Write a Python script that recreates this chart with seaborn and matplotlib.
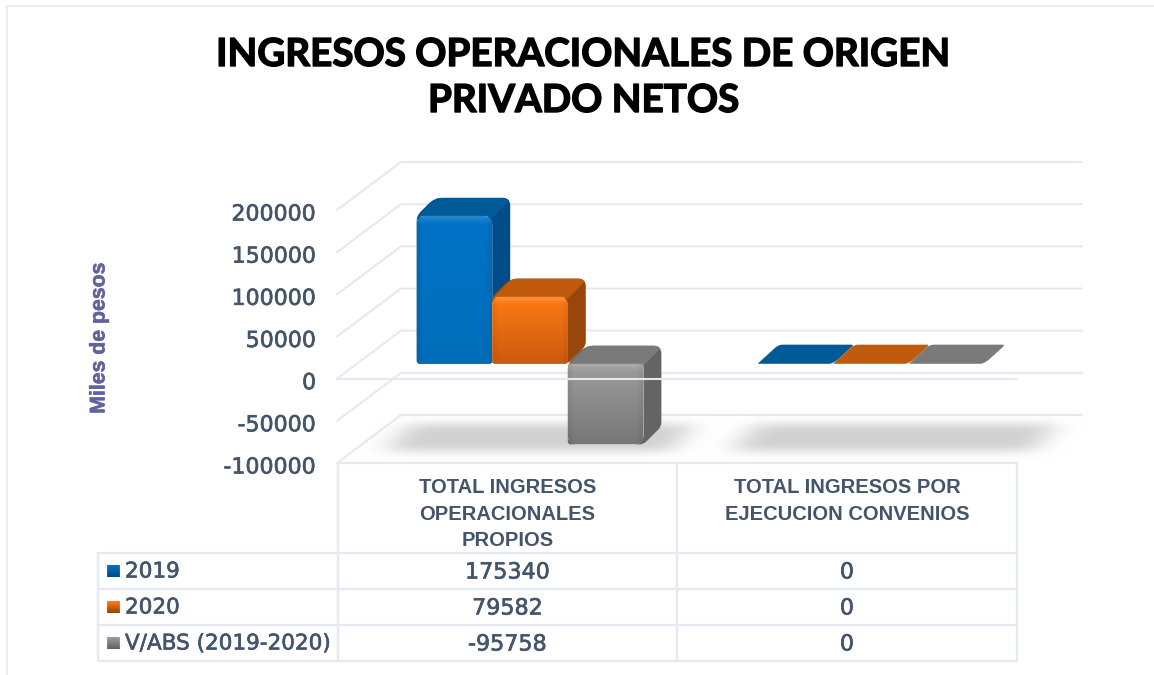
import numpy as np
import pandas as pd
import matplotlib
matplotlib.use("Agg")
import matplotlib.pyplot as plt
import matplotlib.patheffects as pe
import matplotlib.transforms as mtrans
from matplotlib.colors import to_rgb
from matplotlib.patches import PathPatch, Polygon
from matplotlib.path import Path
from matplotlib.lines import Line2D
import seaborn as sns

# ---------- data ----------
categories = ["TOTAL INGRESOS\nOPERACIONALES\nPROPIOS", "TOTAL INGRESOS POR\nEJECUCION CONVENIOS"]
series_names = ["2019", "2020", "V/ABS (2019-2020)"]
values_2019 = [175340, 0]
values_2020 = [79582, 0]
values_vabs = [-95758, 0]
y_ticks = [-100000, -50000, 0, 50000, 100000, 150000, 200000]
title_text = "INGRESOS OPERACIONALES DE ORIGEN\nPRIVADO NETOS"
y_label = "Miles de pesos"

# ---------- styles ----------
W, H = 1154, 675
LINE = "#E6E9F1"
TXT = "#44546A"
face_top = ["#0072C6", "#FF7A12", "#9C9C9C"]
face_bot = ["#006DB8", "#C9590F", "#767676"]
side_col = ["#004C88", "#97470A", "#646464"]
top_col = ["#005A98", "#C05A0C", "#7A7A7A"]

sns.set_theme(style="white")
plt.rcParams["font.family"] = ["DejaVu Sans"]
fig = plt.figure(figsize=(W / 100, H / 100), dpi=100, facecolor="white")
pix = mtrans.Affine2D().scale(1, -1).translate(0, H)   # top-left pixel coordinates
thick = [pe.withStroke(linewidth=0.45, foreground=TXT)]


def ax_rect(l, t, r, b):
    return [l / W, (H - b) / H, (r - l) / W, (b - t) / H]


# ---------- value axes ----------
ax_grid = fig.add_axes(ax_rect(337, 210, 1017, 463), zorder=1)
ax_grid.set_xlim(-0.5, 1.5)
ax_grid.set_ylim(min(y_ticks), max(y_ticks))
ax_grid.set_xticks([])
ax_grid.set_yticks(y_ticks)
ax_grid.set_yticklabels([str(v) for v in y_ticks])
ax_grid.tick_params(axis="y", length=0, pad=15, labelsize=15.9, labelcolor=TXT)
down = mtrans.ScaledTranslation(0, -2.5 / 100, fig.dpi_scale_trans)
for lab in ax_grid.get_yticklabels():
    lab.set_transform(lab.get_transform() + down)
    lab.set_path_effects(thick)
for s in ax_grid.spines.values():
    s.set_visible(False)
ax_grid.patch.set_visible(False)
ylab = ax_grid.set_ylabel(y_label, family="Liberation Sans", fontweight="bold", fontsize=15.3,
                          color="#62629E", va="center")
ylab.set_path_effects([pe.withStroke(linewidth=0.4, foreground="#62629E")])
ax_grid.yaxis.set_label_coords((99 - 337) / 680, (463 - 338) / 253)

# perspective grid, derived from the axis scale
DX_WALL, DY_WALL = 64, 48
for v in y_ticks:
    py = H - ax_grid.transData.transform((0, v))[1]
    ax_grid.add_line(Line2D([337, 337 + DX_WALL, 1082], [py, py - DY_WALL, py - DY_WALL],
                            transform=pix, color=LINE, lw=1.5, zorder=1, clip_on=False))


# soft floor shadows
def shadow(ax, xl, xr, yt, yb, slope, z):
    xs = np.arange(xl - 90, xr + 110)
    ys = np.arange(yt - 24, yb + 25)
    X, Y = np.meshgrid(xs, ys)
    shift = (yb - Y) * slope
    mask = ((Y >= yt) & (Y <= yb) & (X >= xl + shift) & (X <= xr + shift)).astype(float)
    kern = np.ones(27) / 27
    for _ in range(3):
        mask = np.apply_along_axis(lambda m: np.convolve(m, kern, "same"), 1, mask)
    kern2 = np.ones(9) / 9
    for _ in range(3):
        mask = np.apply_along_axis(lambda m: np.convolve(m, kern2, "same"), 0, mask)
    rgba = np.zeros(mask.shape + (4,))
    rgba[..., :3] = 0.8
    rgba[..., 3] = mask * 0.9
    xe = np.r_[xs, xs[-1] + 1]
    ye = np.r_[ys, ys[-1] + 1]
    ax.pcolormesh(xe, ye, rgba, transform=pix, zorder=z, antialiased=False, clip_on=False, rasterized=True)


shadow(ax_grid, 386, 670, 424, 450, 0.9, 2)
shadow(ax_grid, 732, 1032, 424, 450, 0.9, 2)

# ---------- bars ----------
df = pd.DataFrame({
    "categoria": categories * 3,
    "serie": [s for s in series_names for _ in categories],
    "valor": values_2019 + values_2020 + values_vabs,
})
ax_bars = fig.add_axes(ax_rect(337 + 23, 210 - 15, 1017 + 23, 463 - 15), zorder=2)
ax_bars.patch.set_visible(False)
sns.barplot(data=df, x="categoria", y="valor", hue="serie", hue_order=series_names,
            palette=dict(zip(series_names, face_top)), saturation=1, width=0.667, gap=0,
            legend=False, ax=ax_bars, errorbar=None)
ax_bars.set_xlim(-0.5, 1.5)
ax_bars.set_ylim(min(y_ticks), max(y_ticks))
ax_bars.set_autoscale_on(False)
ax_bars.set_xlabel("")
ax_bars.set_ylabel("")
ax_bars.set_xticks([])
ax_bars.set_yticks([])
for s in ax_bars.spines.values():
    s.set_visible(False)


def round_poly(pts, radii):
    """Closed path through pts with each corner rounded by its radius."""
    pts = [np.asarray(p, float) for p in pts]
    n = len(pts)
    verts, codes = [], []
    for i in range(n):
        p, a, b = pts[i], pts[i - 1], pts[(i + 1) % n]
        r = radii[i]
        ua = (a - p) / np.linalg.norm(a - p)
        ub = (b - p) / np.linalg.norm(b - p)
        start, end = p + ua * r, p + ub * r
        verts.append(start)
        codes.append(Path.MOVETO if i == 0 else Path.LINETO)
        verts += [p, end]
        codes += [Path.CURVE3, Path.CURVE3]
    verts.append(verts[0])
    codes.append(Path.CLOSEPOLY)
    return Path(verts, codes)


def mix(a, b, t):
    return np.asarray(to_rgb(a)) * (1 - t) + np.asarray(to_rgb(b)) * t


def front_face(ax, x0, x1, yt, yb, ctop, cbot, z, clip):
    nx, ny = int(x1 - x0) + 1, int(yb - yt) + 1
    xe = np.linspace(x0, x1, nx + 1)
    ye = np.linspace(yt, yb, ny + 1)
    rgba = np.ones((ny, nx, 4))
    for j in range(ny):
        t = j / max(ny - 1, 1)
        c = mix(ctop, cbot, t)
        bev = max(0, 1 - j / 8) * 0.14
        for i in range(nx):
            e = min(i, nx - 1 - i)
            shade = 0.93 + 0.07 * min(e / 6, 1)
            rgba[j, i, :3] = np.clip((c + (1 - c) * bev) * shade, 0, 1)
    m = ax.pcolormesh(xe, ye, rgba, transform=pix, zorder=z, antialiased=False, rasterized=True)
    m.set_clip_path(clip)


DX, DY = 18, 18
for idx, rect in enumerate(ax_bars.patches[:len(series_names) * len(categories)]):
    ser = idx // len(categories)
    (x0, y0), (x1, y1) = ax_bars.transData.transform(
        [(rect.get_x(), rect.get_y()), (rect.get_x() + rect.get_width(), rect.get_y() + rect.get_height())])
    yt, yb = H - max(y0, y1), H - min(y0, y1)
    val = rect.get_height()
    base = 10 + ser * 10
    rect.set_zorder(base + 2)
    if abs(val) < 1:
        y = yb + 1
        flat = round_poly([(x0, y), (x0 + 22, y - 20), (x1 + 22, y - 20), (x1, y)], [3, 4, 3, 8])
        ax_bars.add_patch(PathPatch(flat, transform=pix, fc=top_col[ser], ec="none", zorder=base + 1, clip_on=False))
        continue
    sil = PathPatch(round_poly([(x0, yt), (x0 + DX, yt - DY), (x1 + DX, yt - DY), (x1 + DX, yb - DY), (x1, yb), (x0, yb)],
                               [6, 8, 8, 4, 4, 3]),
                    transform=pix, fc=side_col[ser], ec="none", zorder=base, clip_on=False)
    ax_bars.add_patch(sil)
    top = Polygon([(x0, yt + 2), (x0 + DX + 2, yt - DY), (x1 + DX + 2, yt - DY), (x1, yt + 2)], closed=True,
                  transform=pix, fc=top_col[ser], ec="none", zorder=base + 1)
    ax_bars.add_patch(top)
    top.set_clip_path(sil.get_path(), sil.get_transform())
    rt, rb = (9, 3) if val > 0 else (3, 9)
    clip = PathPatch(round_poly([(x0, yt), (x1, yt), (x1, yb), (x0, yb)], [rt, rt, rb, rb]),
                     transform=pix, fc="none", ec="none")
    ax_bars.add_patch(clip)
    rect.set_clip_path(clip)
    front_face(ax_bars, x0, x1, yt, yb, face_top[ser], face_bot[ser], base + 3, clip)

# zero line crosses in front of the bars
py0 = H - ax_grid.transData.transform((0, 0))[1]
ax_bars.add_line(Line2D([337, 1017], [py0, py0], transform=pix, color=LINE, lw=1.5, zorder=60, clip_on=False))

ax_bars.set_xlim(-0.5, 1.5)
ax_bars.set_ylim(min(y_ticks), max(y_ticks))

# ---------- data table ----------
col_x = [338, 677, 1017]
left_x = 98
row_y = [553, 589, 625, 661]
top_y = 463


def seg(xa, ya, xb, yb, c=LINE, lw=1.7):
    fig.add_artist(Line2D([xa, xb], [ya, yb], transform=pix, color=c, lw=lw))


for x in col_x:
    seg(x, top_y, x, row_y[-1])
seg(left_x, row_y[0], left_x, row_y[-1])
seg(col_x[0], top_y, col_x[-1], top_y)
for y in row_y:
    seg(left_x, y, col_x[-1], y)

table_vals = [values_2019, values_2020, values_vabs]
col_centers = [(col_x[0] + col_x[1]) / 2, (col_x[1] + col_x[2]) / 2]
for cx, cat in zip(col_centers, categories):
    for k, line in enumerate(cat.split("\n")):
        fig.text(cx / W, 1 - (493 + k * 26.5) / H, line, ha="center", va="baseline",
                 family="Liberation Sans", fontweight="bold", fontsize=14.5, color=TXT)
for r, (name, vals) in enumerate(zip(series_names, table_vals)):
    yc = (row_y[r] + row_y[r + 1]) / 2
    for i in range(12):
        c = mix(face_top[r], side_col[r], i / 11)
        fig.add_artist(Line2D([107, 119], [yc - 6 + i, yc - 6 + i], transform=pix, color=c, lw=0.8))
    fig.text(125 / W, 1 - (yc + 6.5) / H, name, ha="left", va="baseline", fontsize=15.5, color=TXT,
             path_effects=thick)
    for cx, v in zip(col_centers, vals):
        fig.text(cx / W, 1 - (yc + 7.5) / H, str(v), ha="center", va="baseline", fontsize=16, color=TXT,
                 path_effects=thick)

# ---------- frame and title ----------
seg(7, 6, 7, H, lw=1.2)
seg(7, 6, W, 6, lw=1.2)
for k, line in enumerate(title_text.split("\n")):
    fig.text(584 / W, 1 - (66 + k * 46) / H, line, ha="center", va="baseline", family="Lato",
             fontweight="bold", fontsize=27.8, color="black",
             path_effects=[pe.withStroke(linewidth=1.0, foreground="black")])

fig.savefig("out.png", dpi=100, facecolor="white")
